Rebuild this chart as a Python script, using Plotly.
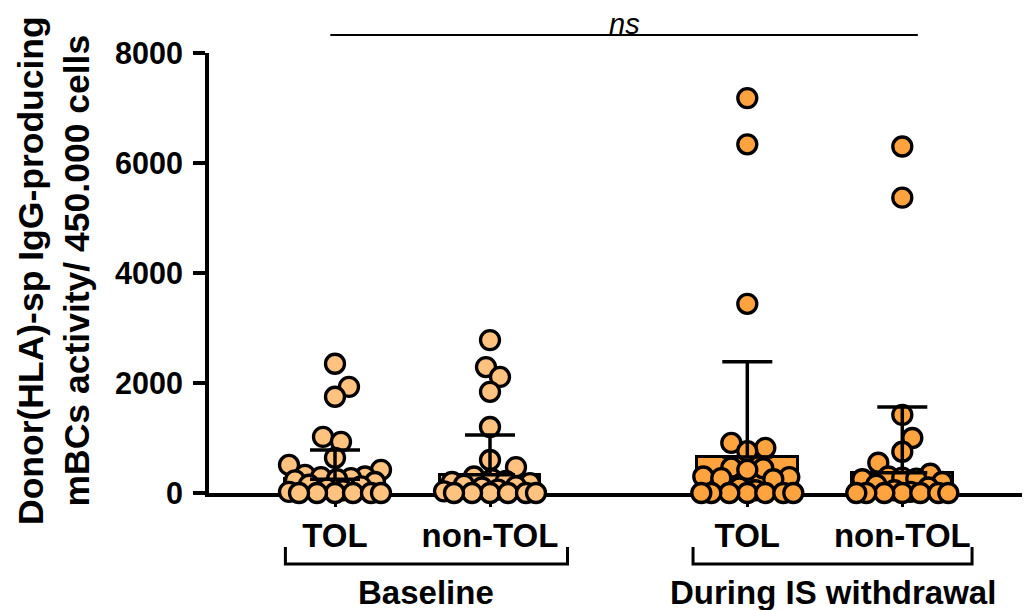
import numpy as np
import plotly.graph_objects as go

# ---------------- data ----------------
categories = ["TOL", "non-TOL", "TOL", "non-TOL"]
periods = ["Baseline", "During IS withdrawal"]

baseline_tol = [2350, 1930, 1750, 1020, 930, 640, 510, 420, 330, 300, 290, 270,
                250, 230, 200, 150, 120, 80, 50, 20, 0, 0, 0, 0, 0, 0]
baseline_nontol = [2780, 2290, 2110, 1840, 1200, 600, 470, 300, 250, 220, 200,
                   180, 150, 120, 100, 60, 30, 0, 0, 0, 0, 0, 0]
withdrawal_tol = [7180, 6340, 3440, 910, 820, 760, 460, 450, 420, 300, 290, 270,
                  250, 100, 50, 0, 0, 0, 0, 0, 0, 0]
withdrawal_nontol = [6300, 5370, 1420, 1000, 750, 550, 350, 300, 280, 260, 250,
                     200, 150, 100, 50, 20, 0, 0, 0, 0, 0, 0, 0]

group_means = [250, 330, 655, 370]
group_sd = [530, 725, 1730, 1195]
y_ticks = [0, 2000, 4000, 6000, 8000]

# ---------------- layout helpers ----------------
groups = [baseline_tol, baseline_nontol, withdrawal_tol, withdrawal_nontol]
positions = [0.0, 1.0, 2.66, 3.66]
light = "#FFC27F"
orange = "#FFA33F"
fills = [light, light, orange, orange]

W, H = 1030, 610
ML, MR, MT, MB = 201, 0, 45, 125
PLOT_W = W - ML - MR
PLOT_H = H - MT - MB
PX_X = 155.0
X_RANGE = [(ML + 8 - 335) / PX_X, (ML + 8 + PLOT_W - 335) / PX_X]
PX_Y = PLOT_H / 8000.0
FONT = "Liberation Sans, Arial, Helvetica, sans-serif"


def swarm(vals, d=17.0, maxw=46.0, step=2.0):
    vals = np.asarray(vals, dtype=float)
    order = np.argsort(vals, kind="stable")
    cands = [0.0]
    k = 1
    while k * step <= maxw:
        cands += [k * step, -k * step]
        k += 1
    placed = []
    offs = np.zeros(len(vals))
    for i in order:
        y = vals[i] * PX_Y
        chosen, best_c, best_d = None, 0.0, -1.0
        for c in cands:
            md = min((np.hypot(c - px, y - py) for px, py in placed), default=1e9)
            if md >= d:
                chosen = c
                break
            if md > best_d:
                best_d, best_c = md, c
        if chosen is None:
            chosen = best_c
        offs[i] = chosen
        placed.append((chosen, y))
    return offs / PX_X


fig = go.Figure()

# bars (mean)
fig.add_trace(go.Bar(
    x=positions, y=group_means, width=0.65,
    marker=dict(color=fills, line=dict(color="black", width=3)),
    showlegend=False, hoverinfo="skip",
))

# individual points
for pos, vals, col in zip(positions, groups, fills):
    offs = swarm(vals)
    fig.add_trace(go.Scatter(
        x=pos + offs, y=vals, mode="markers", cliponaxis=False,
        marker=dict(size=19, color=col, line=dict(color="black", width=3.3)),
        showlegend=False,
    ))

# SD error bars (upper only), drawn on top
fig.add_trace(go.Scatter(
    x=positions, y=group_means, mode="markers",
    marker=dict(size=1, color="rgba(0,0,0,0)"),
    error_y=dict(type="data", symmetric=False, array=group_sd,
                 arrayminus=[0] * 4, color="black", thickness=3.5, width=25),
    showlegend=False, hoverinfo="skip",
))

shapes = []
annotations = []


def py(pix):
    """screen pixel row -> paper y"""
    return (MT + 8 + PLOT_H - pix) / PLOT_H


# group brackets below the axis
brackets = [(positions[0] - 0.32, positions[1] + 0.5),
            (positions[2] - 0.35, positions[3] + 0.45)]
y_top = py(547)
y_bot = py(564)
for (x0, x1), label in zip(brackets, periods):
    shapes.append(dict(type="path", xref="x", yref="paper",
                       path=f"M {x0},{y_top} L {x0},{y_bot} L {x1},{y_bot} L {x1},{y_top}",
                       line=dict(color="black", width=3)))
    annotations.append(dict(x=(x0 + x1) / 2, y=py(592), xref="x", yref="paper",
                            text=f"<b>{label}</b>", showarrow=False,
                            xanchor="center", yanchor="middle",
                            font=dict(family=FONT, size=33, color="black")))

# significance line
ns_x0, ns_x1 = positions[0] - 0.03, positions[3] + 0.1
ns_y = py(35)
shapes.append(dict(type="line", xref="x", yref="paper", x0=ns_x0, x1=ns_x1,
                   y0=ns_y, y1=ns_y, line=dict(color="black", width=2)))
annotations.append(dict(x=(ns_x0 + ns_x1) / 2, y=ns_y, xref="x", yref="paper",
                        text="<i>ns</i>", showarrow=False, xanchor="center",
                        yanchor="bottom", yshift=-7,
                        font=dict(family=FONT, size=29, color="black")))

# y-axis title
annotations.append(dict(x=(54 - ML - 8) / PLOT_W, y=py(271), xref="paper", yref="paper",
                        text="<b>Donor(HLA)-sp IgG-producing<br>mBCs activity/ 450.000 cells</b>",
                        textangle=-90, showarrow=False, xanchor="center", yanchor="middle",
                        font=dict(family=FONT, size=35.5, color="black")))

fig.update_layout(
    width=W, height=H,
    margin=dict(l=ML, r=MR, t=MT, b=MB, pad=0),
    paper_bgcolor="white", plot_bgcolor="white",
    bargap=0, showlegend=False,
    shapes=shapes, annotations=annotations,
    xaxis=dict(range=X_RANGE, tickvals=positions,
               ticktext=[f"<b>{c}</b>" for c in categories],
               ticks="outside", ticklen=10, tickwidth=3, tickcolor="black",
               showline=True, linewidth=4, linecolor="black",
               showgrid=False, zeroline=False, layer="below traces",
               tickfont=dict(family=FONT, size=33, color="black"),
               automargin=False, fixedrange=True),
    yaxis=dict(range=[0, 8000], tickvals=y_ticks,
               ticktext=[f"<b>{v}</b>" for v in y_ticks],
               ticks="outside", ticklen=12, tickwidth=4, tickcolor="black",
               showline=True, linewidth=4, linecolor="black",
               showgrid=False, zeroline=False, ticklabelstandoff=4,
               tickfont=dict(family=FONT, size=30.5, color="black"),
               automargin=False, fixedrange=True),
)

fig.write_html("out.html")
